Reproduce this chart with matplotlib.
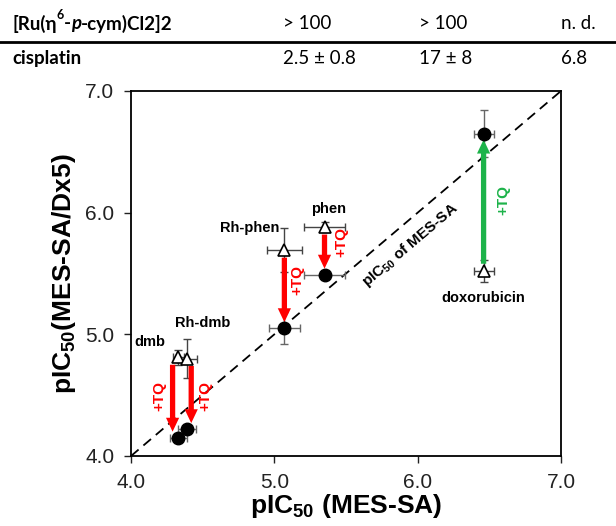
import numpy as np
import matplotlib
matplotlib.use('Agg')
import matplotlib.pyplot as plt

plt.rcParams['font.family'] = ['Liberation Sans', 'DejaVu Sans']
plt.rcParams['mathtext.default'] = 'regular'

# table rows above the chart (first cell split into styled pieces)
ru_name = [('[Ru(η', 'normal', 0), ('6', 'normal', 1), ('-', 'normal', 0),
           ('p', 'italic', 0), ('-cym)Cl2]2', 'normal', 0)]
row1 = ['> 100', '> 100', 'n. d.']
row2 = ['cisplatin', '2.5 ± 0.8', '17 ± 8', '6.8']

# compounds: pIC50 in MES-SA (x) and MES-SA/Dx5 (y)
names = ['dmb', 'Rh-dmb', 'Rh-phen', 'phen', 'doxorubicin']
x_alone = [4.33, 4.39, 5.07, 5.35, 6.46]
y_alone = [4.81, 4.80, 5.69, 5.88, 5.52]
xerr_alone = [0.04, 0.07, 0.12, 0.14, 0.07]
yerr_alone = [0.06, 0.16, 0.18, 0.04, 0.09]
x_tq = [4.33, 4.39, 5.07, 5.35, 6.46]
y_tq = [4.15, 4.22, 5.05, 5.49, 6.65]
xerr_tq = [0.06, 0.06, 0.11, 0.14, 0.07]
yerr_tq = [0.03, 0.03, 0.13, 0.03, 0.19]

fig = plt.figure(figsize=(6.16, 5.26), dpi=100)
renderer = fig.canvas.get_renderer()
tfont = ['Lato', 'DejaVu Sans']

# table fragment
cols = [0.02, 0.46, 0.68, 0.91]
y1, y2 = 0.955, 0.888
xpos = cols[0]
for txt, style, sup in ru_name:
    t = fig.text(xpos, y1 + (0.016 if sup else 0), txt,
                 fontsize=9 if sup else 13.5, va='center', fontweight='bold',
                 style=style, family=tfont)
    bb = t.get_window_extent(renderer)
    xpos = bb.x1 / fig.bbox.width
for j, txt in enumerate(row1):
    fig.text(cols[j + 1], y1, txt, fontsize=13.5, va='center', family=tfont)
for j, txt in enumerate(row2):
    fig.text(cols[j], y2, txt, fontsize=13.5, va='center', family=tfont,
             fontweight='bold' if j == 0 else 'normal')
fig.add_artist(plt.Line2D([0.0, 1.0], [0.921, 0.921], color='k', lw=2,
                          transform=fig.transFigure))

ax = fig.add_axes([0.2127, 0.1331, 0.6980, 0.6939])

ax.plot([4, 7], [4, 7], ls=(0, (5.5, 3.5)), color='k', lw=1.3, zorder=1)
ax.text(5.95, 5.73, 'pIC$_{50}$ of MES-SA', rotation=40.3, fontsize=11,
        fontweight='bold', ha='center', va='center', rotation_mode='anchor')

ax.errorbar(x_alone, y_alone, xerr=xerr_alone, yerr=yerr_alone, fmt='none',
            ecolor='#444444', elinewidth=1, capsize=3, zorder=2)
ax.errorbar(x_tq, y_tq, xerr=xerr_tq, yerr=yerr_tq, fmt='none',
            ecolor='#666666', elinewidth=1, capsize=3, zorder=2)

# arrows
arrow_dx = [-0.04, 0.03, 0.0, 0.0, 0.0]
for i in range(len(names)):
    up = y_tq[i] > y_alone[i]
    col = '#1db34a' if up else 'red'
    xa = x_alone[i] + arrow_dx[i]
    if up:
        start, end = y_alone[i] + 0.06, y_tq[i] - 0.05
    else:
        start, end = y_alone[i] - 0.06, y_tq[i] + 0.05
    ax.annotate('', xy=(xa, end), xytext=(xa, start),
                arrowprops=dict(arrowstyle='simple,head_width=0.95,head_length=1.0,tail_width=0.38',
                                mutation_scale=10, fc=col, ec='none', lw=0,
                                shrinkA=0, shrinkB=0),
                zorder=3)

ax.plot(x_alone, y_alone, '^', ms=9, mfc='white', mec='k', mew=1.2, zorder=4)
ax.plot(x_tq, y_tq, 'o', ms=9, mfc='k', mec='k', zorder=4)

# compound labels
label_pos = [(4.13, 4.94), (4.5, 5.09), (4.83, 5.87), (5.38, 6.03), (6.46, 5.30)]
for n, (lx, ly) in zip(names, label_pos):
    ax.text(lx, ly, n, fontsize=10.5, fontweight='bold', ha='center', va='center')

# +TQ labels
tq_pos = [(4.2, 4.49), (4.52, 4.49), (5.16, 5.45), (5.47, 5.76), (6.6, 6.1)]
for i, (tx, ty) in enumerate(tq_pos):
    col = '#1db34a' if y_tq[i] > y_alone[i] else 'red'
    ax.text(tx, ty, '+TQ', color=col, fontsize=11, fontweight='bold',
            rotation=90, ha='center', va='center')

ax.set_xlim(4, 7)
ax.set_ylim(4, 7)
ax.set_xticks([4, 5, 6, 7])
ax.set_yticks([4, 5, 6, 7])
ax.set_xticklabels(['4.0', '5.0', '6.0', '7.0'])
ax.set_yticklabels(['4.0', '5.0', '6.0', '7.0'])
ax.tick_params(labelsize=15, length=5, width=1, pad=7, direction='out',
               colors='#222222')
for s in ax.spines.values():
    s.set_linewidth(1.3)

ax.set_xlabel('pIC$_{50}$ (MES-SA)', fontsize=19, fontweight='bold', labelpad=0)
ax.set_ylabel('pIC$_{50}$(MES-SA/Dx5)', fontsize=19, fontweight='bold', labelpad=5)

fig.savefig('out.png', dpi=100)
